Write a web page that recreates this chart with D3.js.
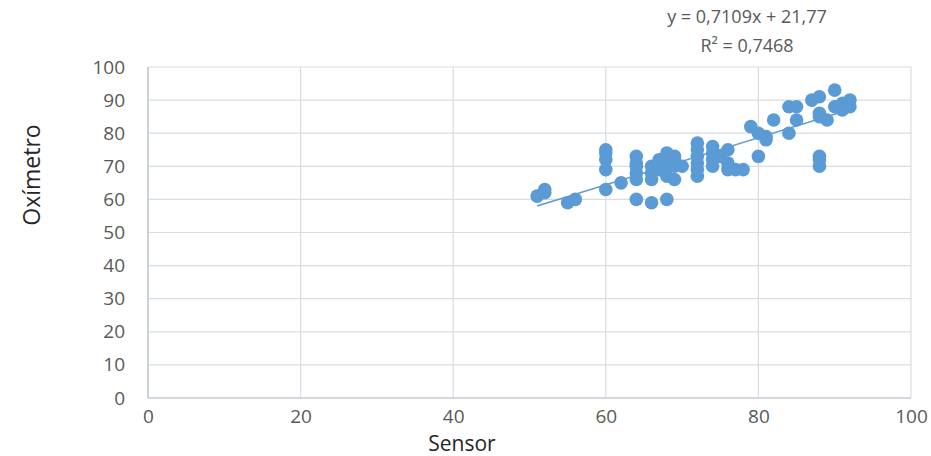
<!DOCTYPE html>
<html>
<head>
<meta charset="utf-8">
<script src="https://d3js.org/d3.v7.min.js"></script>
<style>
    html, body { margin: 0; padding: 0; background: #fff; }
    svg { display: block; }
    .tick text { font-family: "Open Sans", sans-serif; fill: #595959; }
    .title { font-family: "Open Sans", sans-serif; fill: #262626; }
    .eq { font-family: "Open Sans", sans-serif; fill: #595959; font-size: 18px; }
</style>
</head>
<body>
<svg id="chart"></svg>
<script>
// readings
const sensor = [51, 52, 52, 55, 56, 60, 60, 60, 60, 60, 62, 64, 64, 64, 64, 64, 64,
    66, 66, 66, 66, 67, 67, 68, 68, 68, 68, 68, 69, 69, 69, 69, 70,
    72, 72, 72, 72, 72, 72, 74, 74, 74, 74, 75, 76, 76, 76, 77, 78,
    79, 80, 80, 81, 81, 82, 84, 84, 85, 85, 87, 88, 88, 88, 88, 88, 88,
    89, 90, 90, 91, 91, 92, 92];
const oximetro = [61, 63, 62, 59, 60, 75, 74, 72, 69, 63, 65, 73, 71, 70, 68, 66, 60,
    59, 66, 68, 70, 72, 69, 74, 72, 70, 67, 60, 73, 72, 70, 66, 70,
    77, 75, 73, 71, 69, 67, 76, 74, 72, 70, 73, 75, 71, 69, 69, 69,
    82, 80, 73, 79, 78, 84, 88, 80, 88, 84, 90, 91, 86, 85, 73, 72, 70,
    84, 93, 88, 89, 87, 90, 88];
const xTicks = [0, 20, 40, 60, 80, 100];
const yTicks = [0, 10, 20, 30, 40, 50, 60, 70, 80, 90, 100];
const slope = 0.7109, intercept = 21.77;
const eqLabel = "y = 0,7109x + 21,77";
const r2Label = "R² = 0,7468";

const W = 931, H = 456;
const m = { left: 148, right: 20, top: 67, bottom: 58 };
const pw = W - m.left - m.right, ph = H - m.top - m.bottom;

const svg = d3.select("#chart").attr("width", W).attr("height", H);
const g = svg.append("g").attr("transform", `translate(${m.left},${m.top})`);

const x = d3.scaleLinear().domain([0, 100]).range([0, pw]);
const y = d3.scaleLinear().domain([0, 100]).range([ph, 0]);

// grid
g.append("g")
    .selectAll("line.h").data(yTicks).join("line")
    .attr("x1", 0).attr("x2", pw)
    .attr("y1", d => y(d)).attr("y2", d => y(d))
    .attr("stroke", "#d9dde3").attr("stroke-width", 1.2);
g.append("g")
    .selectAll("line.v").data(xTicks).join("line")
    .attr("x1", d => x(d)).attr("x2", d => x(d))
    .attr("y1", 0).attr("y2", ph)
    .attr("stroke", "#d9dde3").attr("stroke-width", 1.2);

// axis lines
g.append("line").attr("x1", 0).attr("x2", 0).attr("y1", 0).attr("y2", ph)
    .attr("stroke", "#b8c0cc").attr("stroke-width", 1.2);
g.append("line").attr("x1", 0).attr("x2", pw).attr("y1", ph).attr("y2", ph)
    .attr("stroke", "#b8c0cc").attr("stroke-width", 1.2);

const yAxis = g.append("g")
    .call(d3.axisLeft(y).tickValues(yTicks).tickSize(0).tickPadding(23));
yAxis.select(".domain").remove();
yAxis.selectAll("text").style("font-size", "19px");

const xAxis = g.append("g")
    .attr("transform", `translate(0,${ph})`)
    .call(d3.axisBottom(x).tickValues(xTicks).tickSize(0).tickPadding(12));
xAxis.select(".domain").remove();
xAxis.selectAll("text").style("font-size", "19px");

// points
g.append("g").selectAll("circle")
    .data(sensor.map((s, i) => [s, oximetro[i]]))
    .join("circle")
    .attr("cx", d => x(d[0])).attr("cy", d => y(d[1]))
    .attr("r", 6.8)
    .attr("fill", "#5b9bd5");

// linear trend line over the data range
const xr = d3.extent(sensor);
g.append("line")
    .attr("x1", x(xr[0])).attr("y1", y(slope * xr[0] + intercept))
    .attr("x2", x(xr[1])).attr("y2", y(slope * xr[1] + intercept))
    .attr("stroke", "#5b9bd5").attr("stroke-width", 1.5);

// equation
svg.append("text").attr("class", "eq").attr("x", 747).attr("y", 23)
    .attr("text-anchor", "middle").text(eqLabel);
svg.append("text").attr("class", "eq").attr("x", 747).attr("y", 52)
    .attr("text-anchor", "middle").text(r2Label);

// titles
svg.append("text").attr("class", "title")
    .attr("transform", "translate(40,175) rotate(-90)")
    .attr("text-anchor", "middle").style("font-size", "23px")
    .text("Oxímetro");
svg.append("text").attr("class", "title")
    .attr("x", 462).attr("y", 451)
    .attr("text-anchor", "middle").style("font-size", "21px")
    .text("Sensor");
</script>
</body>
</html>
